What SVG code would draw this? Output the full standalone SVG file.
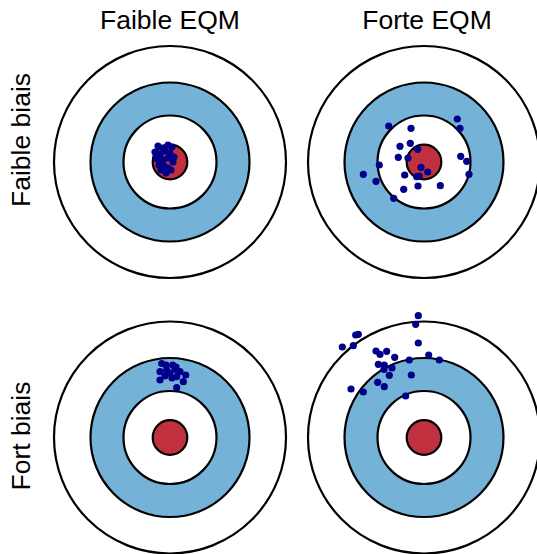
<svg xmlns="http://www.w3.org/2000/svg" width="537" height="554" viewBox="0 0 537 554">
<style>
.bg{fill:#ffffff}
.ring{stroke:#000000;stroke-width:2.2}
.w{fill:#ffffff}
.b{fill:#74b2d7}
.r{fill:#c1303f}
.dot{fill:#00008b}
.lbl{font-family:"Liberation Sans",Arial,sans-serif;font-size:26.5px;fill:#000000}
</style>
<rect class="bg" x="0" y="0" width="537" height="554"/>
<g id="labels">
<text class="lbl" x="170" y="29" text-anchor="middle">Faible EQM</text>
<text class="lbl" x="427" y="29" text-anchor="middle">Forte EQM</text>
<text class="lbl" transform="translate(30,140) rotate(-90)" text-anchor="middle">Faible biais</text>
<text class="lbl" transform="translate(30,436) rotate(-90)" text-anchor="middle">Fort biais</text>
</g>
<g id="target-faible-biais-faible-eqm">
<circle class="ring w" cx="170" cy="162" r="116"/>
<circle class="ring b" cx="170" cy="162" r="79.5"/>
<circle class="ring w" cx="170" cy="162" r="46.5"/>
<circle class="ring r" cx="170" cy="162" r="17.3"/>
<g class="dot">
<circle cx="158" cy="146" r="3.6"/><circle cx="163" cy="148" r="3.6"/><circle cx="168" cy="145" r="3.6"/><circle cx="172" cy="147" r="3.6"/>
<circle cx="155" cy="152" r="3.6"/><circle cx="160" cy="154" r="3.6"/><circle cx="165" cy="151" r="3.6"/><circle cx="170" cy="153" r="3.6"/>
<circle cx="174" cy="157" r="3.6"/><circle cx="157" cy="159" r="3.6"/><circle cx="163" cy="160" r="3.6"/><circle cx="168" cy="158" r="3.6"/>
<circle cx="173" cy="162" r="3.6"/><circle cx="159" cy="165" r="3.6"/><circle cx="164" cy="166" r="3.6"/><circle cx="168" cy="168" r="3.6"/>
<circle cx="166" cy="173" r="3.6"/><circle cx="171" cy="170" r="3.6"/><circle cx="156" cy="157" r="3.6"/><circle cx="161" cy="170" r="3.6"/>
</g>
</g>
<g id="target-faible-biais-forte-eqm">
<circle class="ring w" cx="424" cy="162" r="116"/>
<circle class="ring b" cx="424" cy="162" r="79.5"/>
<circle class="ring w" cx="424" cy="162" r="46.5"/>
<circle class="ring r" cx="424" cy="162" r="17.3"/>
<g class="dot">
<circle cx="388.7" cy="126" r="3.6"/><circle cx="411" cy="128.3" r="3.6"/><circle cx="457.3" cy="119" r="3.6"/><circle cx="460" cy="128.3" r="3.6"/>
<circle cx="400" cy="146.3" r="3.6"/><circle cx="410.3" cy="143.3" r="3.6"/><circle cx="417.7" cy="149.3" r="3.6"/><circle cx="398.3" cy="157.3" r="3.6"/>
<circle cx="408" cy="158" r="3.6"/><circle cx="460.7" cy="156.3" r="3.6"/><circle cx="466.7" cy="161.3" r="3.6"/><circle cx="379.3" cy="165" r="3.6"/>
<circle cx="421" cy="167.3" r="3.6"/><circle cx="363.3" cy="174.3" r="3.6"/><circle cx="404.7" cy="175" r="3.6"/><circle cx="416.7" cy="176.7" r="3.6"/>
<circle cx="419.3" cy="176" r="3.6"/><circle cx="427.7" cy="172" r="3.6"/><circle cx="469" cy="174.3" r="3.6"/><circle cx="376" cy="181.3" r="3.6"/>
<circle cx="418" cy="186" r="3.6"/><circle cx="440.3" cy="185.7" r="3.6"/><circle cx="403.7" cy="189.3" r="3.6"/><circle cx="393.7" cy="198.3" r="3.6"/>
</g>
</g>
<g id="target-fort-biais-faible-eqm">
<circle class="ring w" cx="170" cy="437.5" r="116"/>
<circle class="ring b" cx="170" cy="437.5" r="79.5"/>
<circle class="ring w" cx="170" cy="437.5" r="46.5"/>
<circle class="ring r" cx="170" cy="437.5" r="17.3"/>
<g class="dot">
<circle cx="161.7" cy="363.5" r="3.6"/><circle cx="166" cy="365" r="3.6"/><circle cx="172.7" cy="365" r="3.6"/><circle cx="176" cy="367" r="3.6"/>
<circle cx="175" cy="369.5" r="3.6"/><circle cx="160" cy="371.7" r="3.6"/><circle cx="166.7" cy="370" r="3.6"/><circle cx="170" cy="373" r="3.6"/>
<circle cx="180" cy="371.7" r="3.6"/><circle cx="185.7" cy="375" r="3.6"/><circle cx="176.7" cy="376.7" r="3.6"/><circle cx="183.3" cy="381.7" r="3.6"/>
<circle cx="160" cy="380" r="3.6"/><circle cx="176.7" cy="387.7" r="3.6"/><circle cx="172" cy="378" r="3.6"/><circle cx="165" cy="376" r="3.6"/>
</g>
</g>
<g id="target-fort-biais-forte-eqm">
<circle class="ring w" cx="424" cy="437.5" r="116"/>
<circle class="ring b" cx="424" cy="437.5" r="79.5"/>
<circle class="ring w" cx="424" cy="437.5" r="46.5"/>
<circle class="ring r" cx="424" cy="437.5" r="17.3"/>
<g class="dot">
<circle cx="418.3" cy="315.7" r="3.6"/><circle cx="415.7" cy="324.3" r="3.6"/><circle cx="355.7" cy="335" r="3.6"/><circle cx="358.3" cy="334.3" r="3.6"/>
<circle cx="342.3" cy="347" r="3.6"/><circle cx="353.3" cy="345.7" r="3.6"/><circle cx="418.3" cy="343" r="3.6"/><circle cx="376" cy="351" r="3.6"/>
<circle cx="380" cy="354.3" r="3.6"/><circle cx="386.7" cy="351.3" r="3.6"/><circle cx="394.7" cy="357.3" r="3.6"/><circle cx="409.3" cy="360" r="3.6"/>
<circle cx="428.7" cy="355" r="3.6"/><circle cx="439.3" cy="360" r="3.6"/><circle cx="378.3" cy="364.3" r="3.6"/><circle cx="384.3" cy="365" r="3.6"/>
<circle cx="392" cy="368" r="3.6"/><circle cx="384" cy="369.3" r="3.6"/><circle cx="389.3" cy="375.3" r="3.6"/><circle cx="411.3" cy="375" r="3.6"/>
<circle cx="377.7" cy="382.3" r="3.6"/><circle cx="384.3" cy="386.7" r="3.6"/><circle cx="351" cy="389" r="3.6"/><circle cx="363.3" cy="392" r="3.6"/>
<circle cx="405.7" cy="396" r="3.6"/>
</g>
</g>
</svg>
